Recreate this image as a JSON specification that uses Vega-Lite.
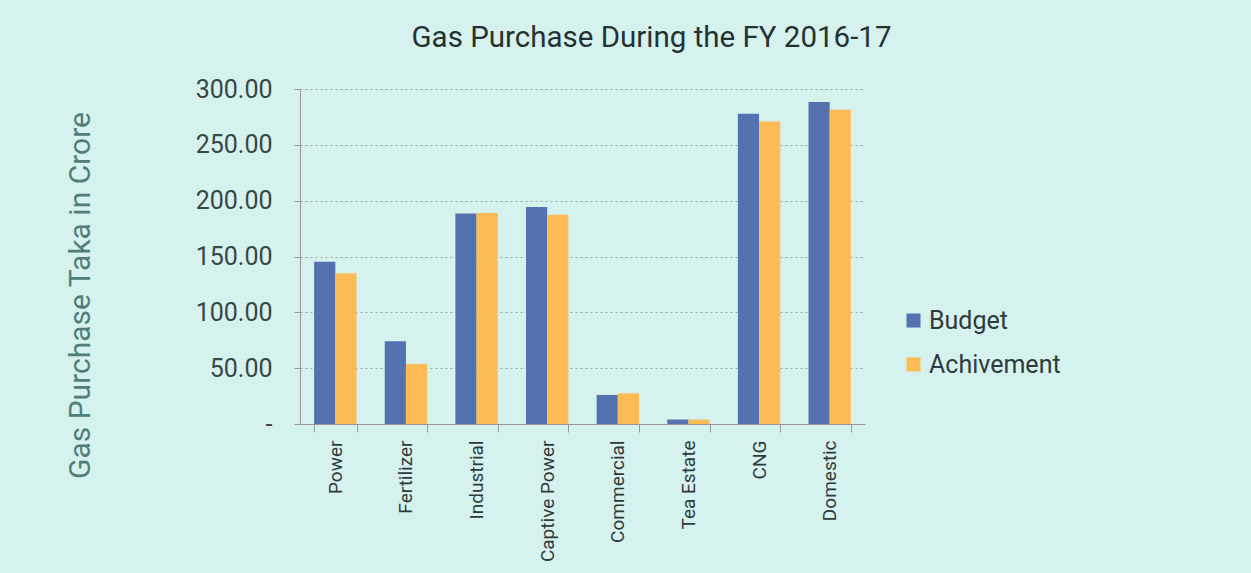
{
  "$schema": "https://vega.github.io/schema/vega-lite/v6.json",
  "autosize": {"type": "none"},
  "width": 565,
  "height": 335,
  "padding": {"left": 300, "top": 89, "right": 386, "bottom": 149},
  "background": "#d6f2ee",
  "title": {
    "text": "Gas Purchase During the FY 2016-17",
    "font": "Roboto",
    "fontSize": 29.5,
    "fontWeight": "normal",
    "color": "#263232",
    "dx": 69,
    "offset": 24
  },
  "data": {
    "values": [
      {"sector": "Power", "series": "Budget", "value": 145.3},
      {"sector": "Power", "series": "Achivement", "value": 134.9},
      {"sector": "Fertilizer", "series": "Budget", "value": 74.0},
      {"sector": "Fertilizer", "series": "Achivement", "value": 53.7},
      {"sector": "Industrial", "series": "Budget", "value": 188.6},
      {"sector": "Industrial", "series": "Achivement", "value": 188.9},
      {"sector": "Captive Power", "series": "Budget", "value": 194.3},
      {"sector": "Captive Power", "series": "Achivement", "value": 187.4},
      {"sector": "Commercial", "series": "Budget", "value": 26.0},
      {"sector": "Commercial", "series": "Achivement", "value": 27.5},
      {"sector": "Tea Estate", "series": "Budget", "value": 4.0},
      {"sector": "Tea Estate", "series": "Achivement", "value": 4.0},
      {"sector": "CNG", "series": "Budget", "value": 277.8},
      {"sector": "CNG", "series": "Achivement", "value": 271.0},
      {"sector": "Domestic", "series": "Budget", "value": 288.3},
      {"sector": "Domestic", "series": "Achivement", "value": 281.4}
    ]
  },
  "mark": {"type": "bar"},
  "encoding": {
    "x": {
      "field": "sector",
      "type": "nominal",
      "sort": null,
      "scale": {"paddingInner": 0.4, "paddingOuter": 0.2},
      "axis": {
        "title": null,
        "labelAngle": -90,
        "labelFont": "Roboto",
        "labelFontSize": 19,
        "labelColor": "#2f3a3c",
        "labelPadding": 8,
        "tickBand": "extent",
        "tickSize": 8,
        "tickColor": "#999999",
        "domainColor": "#999999",
        "grid": false
      }
    },
    "xOffset": {"field": "series", "type": "nominal", "sort": ["Budget", "Achivement"], "scale": {"paddingInner": 0, "paddingOuter": 0}},
    "y": {
      "field": "value",
      "type": "quantitative",
      "scale": {"domain": [0, 300], "nice": false},
      "axis": {
        "values": [0, 50, 100, 150, 200, 250, 300],
        "labelExpr": "datum.value == 0 ? '-' : format(datum.value, '.2f')",
        "labelFont": "Roboto",
        "labelFontSize": 25,
        "labelColor": "#3a4644",
        "labelPadding": 22,
        "tickSize": 6,
        "tickColor": "#999999",
        "domainColor": "#999999",
        "grid": true,
        "gridColor": "#9aa7a5",
        "gridDash": [2, 3],
        "gridWidth": 1,
        "title": "Gas Purchase Taka in Crore",
        "titleFont": "Roboto",
        "titleFontSize": 30,
        "titleFontWeight": "normal",
        "titleColor": "#4f7f78",
        "titleAngle": -90,
        "titleX": -220,
        "titleY": 206,
        "titleAlign": "center",
        "titleBaseline": "middle"
      }
    },
    "color": {
      "field": "series",
      "type": "nominal",
      "sort": ["Budget", "Achivement"],
      "scale": {"domain": ["Budget", "Achivement"], "range": ["#5572b0", "#fdbb55"]},
      "legend": {
        "title": null,
        "orient": "none",
        "legendX": 601,
        "legendY": 219,
        "symbolType": "square",
        "symbolSize": 196,
        "symbolStrokeWidth": 0,
        "labelFont": "Roboto",
        "labelFontSize": 25,
        "labelColor": "#2f3a3c",
        "labelOffset": 3,
        "rowPadding": 18
      }
    }
  },
  "config": {"view": {"stroke": null}}
}
